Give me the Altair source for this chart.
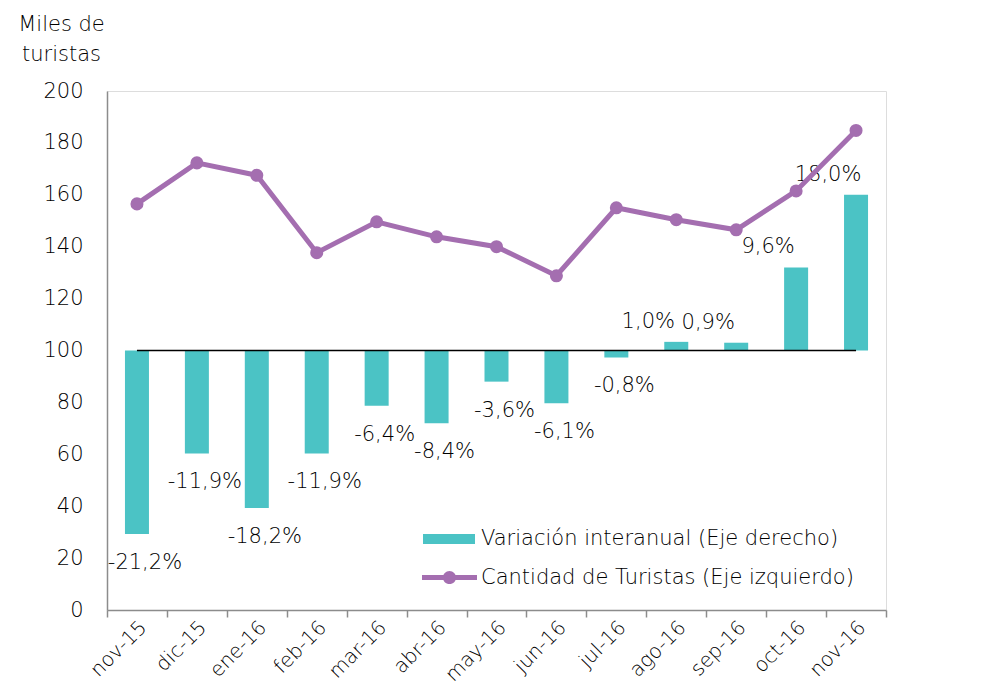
import altair as alt
import pandas as pd

meses = ["nov-15", "dic-15", "ene-16", "feb-16", "mar-16", "abr-16", "may-16",
         "jun-16", "jul-16", "ago-16", "sep-16", "oct-16", "nov-16"]
turistas = [156.5, 172.3, 167.5, 137.7, 149.6, 143.8, 140.0, 128.8, 155.0, 150.4, 146.5, 161.5, 184.8]
variacion = [-21.2, -11.9, -18.2, -11.9, -6.4, -8.4, -3.6, -6.1, -0.8, 1.0, 0.9, 9.6, 18.0]
cero = [0] * len(meses)

serie_bar = "Variación interanual (Eje derecho)"
serie_line = "Cantidad de Turistas (Eje izquierdo)"

df = pd.DataFrame({
    "mes": meses,
    "turistas": turistas,
    "variacion": variacion,
    "cero": cero,
    "label": [f"{v:.1f}%".replace(".", ",") for v in variacion],
    "s1": serie_bar,
    "s2": serie_line,
})

TEAL = "#4BC3C5"
PURPLE = "#A46EB0"
GRAY = "#8C8C8C"
TXT = "#000000"
FONT = "DejaVu Sans"
FW = 300

x = alt.X("mes:N", sort=meses, title=None,
          scale=alt.Scale(paddingInner=0, paddingOuter=0),
          axis=alt.Axis(tickBand="extent", tickSize=7, tickColor=GRAY, domainColor=GRAY,
                        domainWidth=1.5, tickWidth=1.5,
                        labelAngle=315, labelAlign="right", labelBaseline="middle",
                        labelFontSize=20, labelPadding=7, labelOffset=6, labelColor=TXT,
                        labelFont=FONT, labelFontWeight=FW))

yr_scale = alt.Scale(domain=[-30, 30], nice=False)
yr_axis = alt.Axis(orient="right", values=[-30, -20, -10, 0, 10, 20, 30],
                   labelExpr="datum.value + '%'", ticks=False, grid=False,
                   domainColor=GRAY, domainWidth=1.5, labelFontSize=21, labelColor=TXT,
                   labelFont=FONT, labelFontWeight=FW, labelPadding=25,
                   title=["Variación i.a.", "(%)"], titleAngle=0, titleAlign="center",
                   titleBaseline="top", titleX=30, titleY=-78, titleFontSize=21,
                   titleFontWeight=FW, titleColor=TXT, titleFont=FONT, titleLineHeight=30)

bars = alt.Chart(df).mark_bar(size=24).encode(
    x=x,
    y=alt.Y("variacion:Q", scale=yr_scale, axis=yr_axis),
    y2=alt.Y2(datum=0),
    color=alt.Color("s1:N", scale=alt.Scale(range=[TEAL]),
                    legend=alt.Legend(title=None, orient="none", legendX=316, legendY=422,
                                      symbolType="M-1,-0.19H1V0.19H-1Z", symbolSize=2704,
                                      symbolStrokeWidth=0, labelFontSize=21, labelColor=TXT,
                                      labelFont=FONT, labelFontWeight=FW, labelOffset=6,
                                      labelLimit=0)),
)

zero = alt.Chart(df).mark_line(color="black", strokeWidth=1.5).encode(
    x=alt.X("mes:N", sort=meses),
    y=alt.Y("cero:Q", scale=yr_scale, axis=None),
)

neg = alt.Chart(df).transform_filter("datum.variacion < 0").mark_text(
    fontSize=21, font=FONT, fontWeight=FW, color=TXT, dx=8, dy=29,
    baseline="middle", align="center"
).encode(x=alt.X("mes:N", sort=meses), y=alt.Y("variacion:Q", scale=yr_scale, axis=None),
         text="label:N")

pos = alt.Chart(df).transform_filter("datum.variacion > 0").mark_text(
    fontSize=21, font=FONT, fontWeight=FW, color=TXT, dx=-28, dy=-20,
    baseline="middle", align="center"
).encode(x=alt.X("mes:N", sort=meses), y=alt.Y("variacion:Q", scale=yr_scale, axis=None),
         text="label:N")

yl_scale = alt.Scale(domain=[0, 200], nice=False)
yl_axis = alt.Axis(orient="left", values=list(range(0, 201, 20)), ticks=False, grid=False,
                   domainColor=GRAY, domainWidth=1.5, labelFontSize=21, labelColor=TXT,
                   labelFont=FONT, labelFontWeight=FW, labelPadding=24,
                   title=["Miles de", "turistas"], titleAngle=0, titleAlign="center",
                   titleBaseline="top", titleX=-46, titleY=-78, titleFontSize=21,
                   titleFontWeight=FW, titleColor=TXT, titleFont=FONT, titleLineHeight=30)

line = alt.Chart(df).mark_line(color=PURPLE, strokeWidth=5).encode(
    x=alt.X("mes:N", sort=meses),
    y=alt.Y("turistas:Q", scale=yl_scale, axis=yl_axis),
)
points = alt.Chart(df).mark_circle(size=170, opacity=1).encode(
    x=alt.X("mes:N", sort=meses),
    y=alt.Y("turistas:Q", scale=yl_scale, axis=yl_axis),
    color=alt.Color("s2:N", scale=alt.Scale(range=[PURPLE]),
                    legend=alt.Legend(title=None, orient="none", legendX=315, legendY=459,
                                      symbolType="M-1,-0.09H1V0.09H-1Z M-0.24,0A0.24,0.24 0 1,1 0.24,0A0.24,0.24 0 1,1 -0.24,0Z",
                                      symbolSize=3025, symbolStrokeWidth=0, symbolOpacity=1,
                                      labelFontSize=21, labelColor=TXT, labelFont=FONT,
                                      labelFontWeight=FW, labelOffset=4, labelLimit=0)),
)

right = alt.layer(bars, zero, neg, pos)
left = alt.layer(line, points)

chart = alt.layer(right, left).resolve_scale(y="independent", color="independent").properties(
    width=779, height=519,
    autosize=alt.AutoSizeParams(type="none"),
    padding={"left": 99, "top": 83, "right": 98, "bottom": 78},
).configure_view(stroke=None).configure(font=FONT)

chart.save("out.html", embed_options={"renderer": "svg", "actions": False})
